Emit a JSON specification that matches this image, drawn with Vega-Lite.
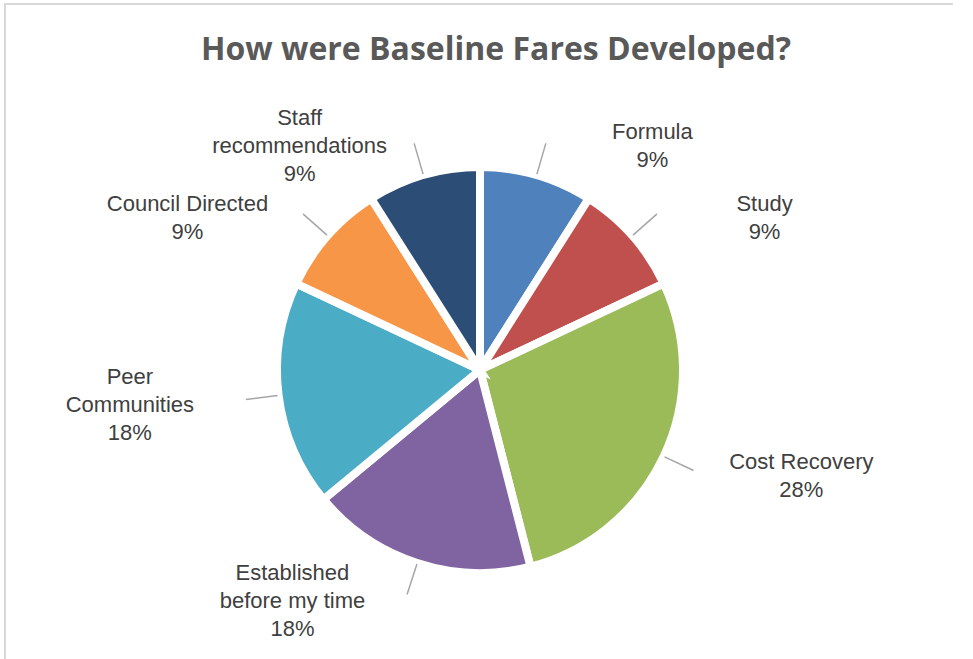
{
  "$schema": "https://vega.github.io/schema/vega-lite/v6.json",
  "autosize": "none",
  "width": 950,
  "height": 732,
  "padding": {"left": 5, "top": 4, "right": 0, "bottom": 0},
  "background": "white",
  "view": {"stroke": "#D9D9D9", "strokeWidth": 2, "strokeDash": [948, 1684, 740], "fill": "white"},
  "title": {
    "text": "How were Baseline Fares Developed?",
    "font": "Open Sans",
    "fontSize": 32,
    "fontWeight": "bold",
    "color": "#595959",
    "anchor": "middle",
    "offset": -63,
    "dx": 16
  },
  "data": {
    "values": [
      {"category": "Formula", "value": 9, "rank": 1, "label": "Formula\n9%"},
      {"category": "Study", "value": 9, "rank": 2, "label": "Study\n9%"},
      {"category": "Cost Recovery", "value": 28, "rank": 3, "label": "Cost Recovery\n28%"},
      {"category": "Established before my time", "value": 18, "rank": 4, "label": "Established\nbefore my time\n18%"},
      {"category": "Peer Communities", "value": 18, "rank": 5, "label": "Peer\nCommunities\n18%"},
      {"category": "Council Directed", "value": 9, "rank": 6, "label": "Council Directed\n9%"},
      {"category": "Staff recommendations", "value": 9, "rank": 7, "label": "Staff\nrecommendations\n9%"}
    ]
  },
  "encoding": {
    "theta": {"field": "value", "type": "quantitative", "stack": true},
    "order": {"field": "rank", "type": "quantitative"}
  },
  "layer": [
    {
      "mark": {"type": "arc", "radius": 203, "stroke": "white", "strokeWidth": 8},
      "encoding": {
        "color": {
          "field": "category",
          "type": "nominal",
          "sort": null,
          "scale": {
            "domain": ["Formula", "Study", "Cost Recovery", "Established before my time", "Peer Communities", "Council Directed", "Staff recommendations"],
            "range": ["#4F81BD", "#C0504D", "#9BBB59", "#8064A2", "#4BACC6", "#F79646", "#2C4D75"]
          },
          "legend": null
        }
      }
    },
    {
      "mark": {"type": "arc", "innerRadius": 204, "outerRadius": 236, "padAngle": 3, "fill": null, "fillOpacity": 0, "stroke": "#A6A6A6", "strokeWidth": 1.5},
      "encoding": {
        "detail": {"field": "category", "type": "nominal"}
      }
    },
    {
      "mark": {
        "type": "text",
        "radius": 238,
        "font": "Liberation Sans",
        "fontSize": 22,
        "fill": "#404040",
        "lineBreak": "\n",
        "lineHeight": 28,
        "baseline": "middle",
        "align": "center",
        "dx": {"expr": "(datum.value_start + datum.value_end) < 100 ? 106 : -114"},
        "dy": {"expr": "5 - 14 * (length(split(datum.label, '\\n')) - 1)"}
      },
      "encoding": {
        "text": {"field": "label", "type": "nominal"},
        "detail": {"field": "category", "type": "nominal"}
      }
    }
  ]
}
